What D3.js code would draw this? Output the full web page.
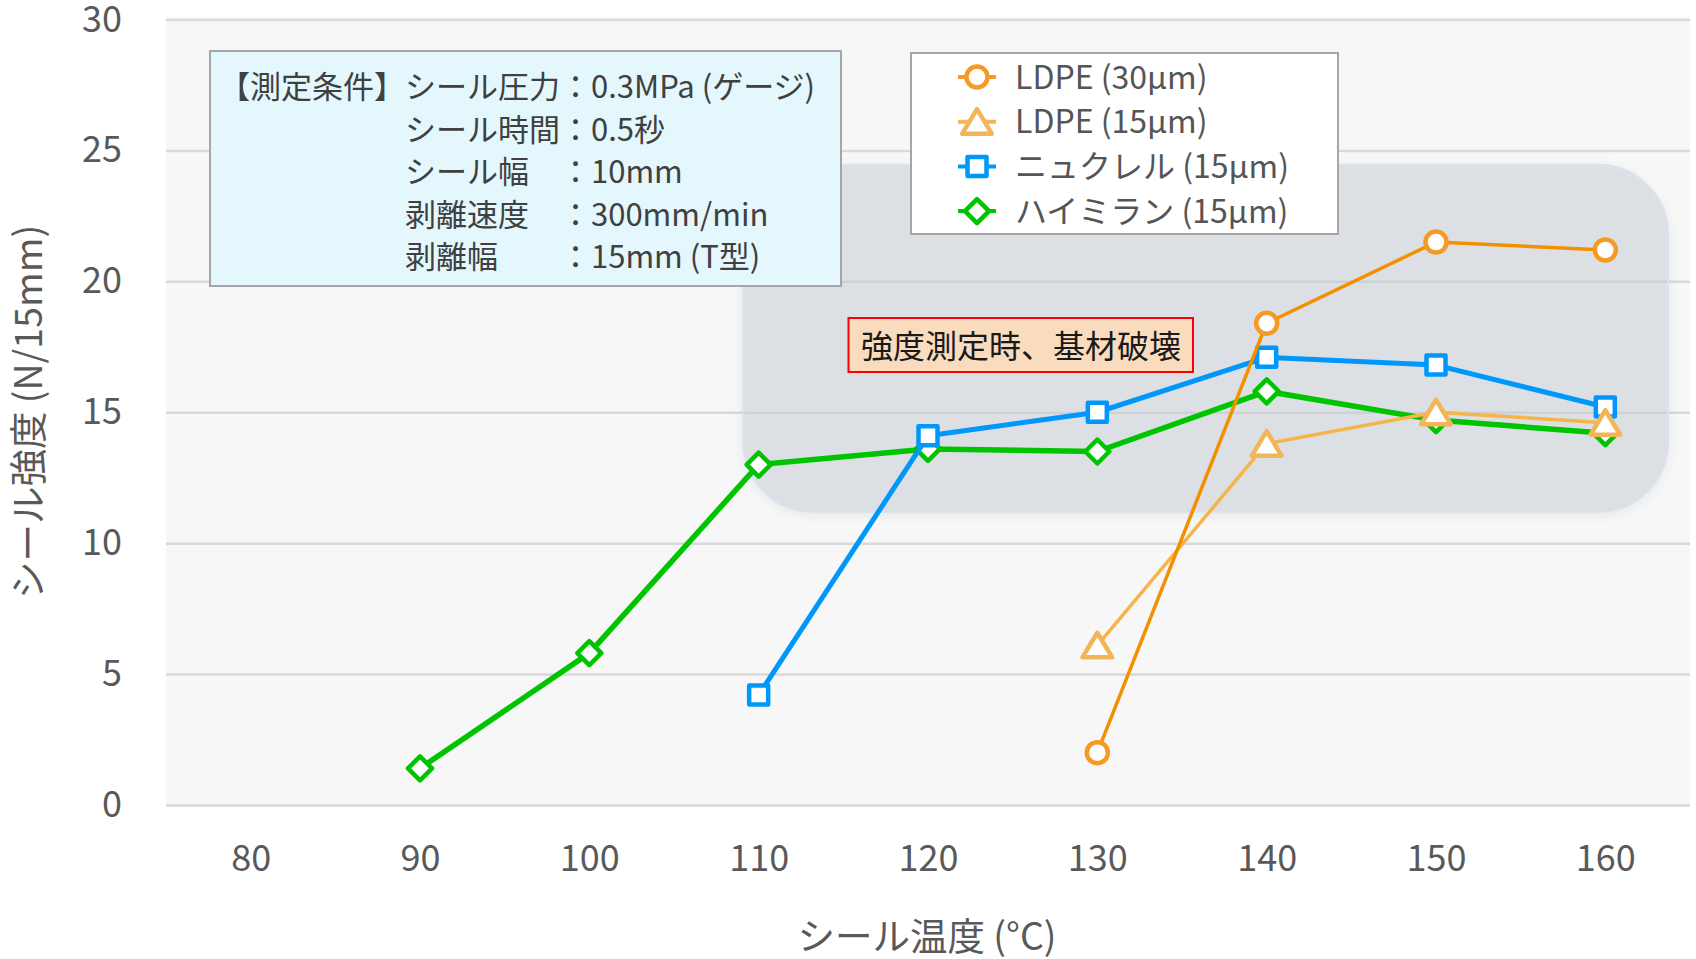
<!DOCTYPE html>
<html>
<head>
<meta charset="utf-8">
<script src="https://cdn.jsdelivr.net/npm/d3@7"></script>
<style>
  body { margin: 0; background: #fff; }
  svg { display: block; font-family: "Noto Sans CJK JP", "Noto Sans", sans-serif; }
</style>
</head>
<body>
<svg id="chart" width="1696" height="959"></svg>
<script>
var temps = [80, 90, 100, 110, 120, 130, 140, 150, 160]
var yTicks = [0, 5, 10, 15, 20, 25, 30]

var ldpe30Temps = [130, 140, 150, 160]
var ldpe30Values = [2.0, 18.4, 21.5, 21.2]
var ldpe15Temps = [130, 140, 150, 160]
var ldpe15Values = [6.1, 13.8, 15.0, 14.6]
var nucrelTemps = [110, 120, 130, 140, 150, 160]
var nucrelValues = [4.2, 14.1, 15.0, 17.1, 16.8, 15.2]
var himilanTemps = [90, 100, 110, 120, 130, 140, 150, 160]
var himilanValues = [1.4, 5.8, 13.0, 13.6, 13.5, 15.8, 14.7, 14.2]

var seriesNames = ['LDPE (30μm)', 'LDPE (15μm)', 'ニュクレル (15μm)', 'ハイミラン (15μm)']

var conditionTitle = '【測定条件】'
var conditionLabels = ['シール圧力', 'シール時間', 'シール幅　', '剥離速度　', '剥離幅　　']
var conditionValues = ['0.3MPa (ゲージ)', '0.5秒', '10mm', '300mm/min', '15mm (T型)']
var noteText = '強度測定時、基材破壊'

// region where the substrate broke (temp / strength units)
var brokenTemps = [109.1, 163.7]
var brokenValues = [11.2, 24.45]

var xTitle = 'シール温度 (°C)'
var yTitle = 'シール強度 (N/15mm)'

;(function() {
  var svg = d3.select('#chart')
  var left = 166, right = 1690, top = 17, bottom = 805

  var x = d3.scaleLinear().domain([75, 165]).range([left, right])
  var y = d3.scaleLinear().domain([0, 30]).range([bottom, 19.5])

  var defs = svg.append('defs')
  var f = defs.append('filter').attr('id', 'soft')
    .attr('x', '-10%').attr('y', '-10%').attr('width', '120%').attr('height', '130%')
  f.append('feDropShadow').attr('dx', 0).attr('dy', 3).attr('stdDeviation', 4)
    .attr('flood-color', '#9aa6b6').attr('flood-opacity', 0.3)

  svg.append('rect')
    .attr('x', left).attr('y', top)
    .attr('width', right - left).attr('height', bottom - top)
    .attr('fill', '#f7f7f7')

  // gridlines + y labels
  var yAxis = d3.axisLeft(y)
    .tickValues(yTicks)
    .tickSize(-(right - left))
    .tickPadding(44)
  var gy = svg.append('g')
    .attr('transform', 'translate(' + left + ',0)')
    .call(yAxis)
    .attr('font-family', null).attr('font-size', 36)
  gy.select('.domain').remove()
  gy.selectAll('.tick line').attr('stroke', '#d9d9d9').attr('stroke-width', 2.5)
  gy.selectAll('.tick text').attr('fill', '#595959')

  var xAxis = d3.axisBottom(x)
    .tickValues(temps)
    .tickSize(0)
    .tickPadding(40)
  var gx = svg.append('g')
    .attr('transform', 'translate(0,' + bottom + ')')
    .call(xAxis)
    .attr('font-family', null).attr('font-size', 36)
  gx.select('.domain').remove()
  gx.selectAll('.tick text').attr('fill', '#595959')

  // shaded region
  svg.append('rect')
    .attr('x', x(brokenTemps[0])).attr('y', y(brokenValues[1]))
    .attr('width', x(brokenTemps[1]) - x(brokenTemps[0]))
    .attr('height', y(brokenValues[0]) - y(brokenValues[1]))
    .attr('rx', 70).attr('ry', 70)
    .attr('fill', 'rgb(200,206,214)').attr('fill-opacity', 0.43)
    .attr('stroke', '#dae1ec').attr('stroke-width', 2)
    .attr('filter', 'url(#soft)')

  // conditions box
  svg.append('rect')
    .attr('x', 210).attr('y', 51).attr('width', 631).attr('height', 235)
    .attr('fill', '#e3f7fd').attr('stroke', '#a6a6a6').attr('stroke-width', 2)
  var cond = svg.append('g').attr('font-size', 31).attr('fill', '#404040')
  cond.append('text')
    .attr('x', 219).attr('y', 87).attr('dy', '0.36em')
    .text(conditionTitle)
  conditionLabels.forEach(function(label, i) {
    cond.append('text')
      .attr('x', 405).attr('y', 87 + i * 42.5).attr('dy', '0.36em')
      .text(label + '：' + conditionValues[i])
  })

  // note box
  svg.append('rect')
    .attr('x', 848.5).attr('y', 318).attr('width', 344.5).attr('height', 54)
    .attr('fill', '#f9dcbe').attr('stroke', '#ff0000').attr('stroke-width', 2)
  svg.append('text')
    .attr('x', 861).attr('y', 346).attr('dy', '0.36em')
    .attr('font-size', 32).attr('fill', '#1a1a1a')
    .text(noteText)

  function marker(g, type, cx, cy, color) {
    var m
    if (type == 'circle') {
      m = g.append('circle').attr('cx', cx).attr('cy', cy).attr('r', 10.5)
    } else if (type == 'triangle') {
      m = g.append('path').attr('d', 'M' + cx + ',' + (cy - 12.5) + 'L' + (cx + 14.8) + ',' + (cy + 12) +
        'L' + (cx - 14.8) + ',' + (cy + 12) + 'Z')
    } else if (type == 'square') {
      m = g.append('rect').attr('x', cx - 9.5).attr('y', cy - 9.5).attr('width', 19).attr('height', 19)
    } else {
      m = g.append('path').attr('d', 'M' + cx + ',' + (cy - 12) + 'L' + (cx + 12) + ',' + cy +
        'L' + cx + ',' + (cy + 12) + 'L' + (cx - 12) + ',' + cy + 'Z')
    }
    m.attr('fill', '#fff').attr('stroke', color).attr('stroke-width', 4.5)
      .attr('stroke-linejoin', 'round')
  }

  var series = [
    {temps: himilanTemps, values: himilanValues, color: '#00c400', lineColor: '#00c400', width: 5.5, type: 'diamond'},
    {temps: nucrelTemps, values: nucrelValues, color: '#0097fb', lineColor: '#0097fb', width: 5, type: 'square'},
    {temps: ldpe15Temps, values: ldpe15Values, color: '#f2b659', lineColor: '#f5b54a', width: 3.5, type: 'triangle'},
    {temps: ldpe30Temps, values: ldpe30Values, color: '#f59b25', lineColor: '#f39000', width: 3.5, type: 'circle'}
  ]

  var line = d3.line()
    .x(function(d) { return x(d[0]) })
    .y(function(d) { return y(d[1]) })

  series.forEach(function(s) {
    var pts = s.temps.map(function(t, i) { return [t, s.values[i]] })
    var g = svg.append('g')
    g.append('path')
      .attr('d', line(pts))
      .attr('fill', 'none').attr('stroke', s.lineColor)
      .attr('stroke-width', s.width).attr('stroke-linejoin', 'round')
    pts.forEach(function(p) {
      marker(g, s.type, x(p[0]), y(p[1]), s.color)
    })
  })

  // legend
  svg.append('rect')
    .attr('x', 911).attr('y', 53).attr('width', 427).attr('height', 181)
    .attr('fill', '#fff').attr('stroke', '#a6a6a6').attr('stroke-width', 2)
  var legendOrder = [series[3], series[2], series[1], series[0]]
  legendOrder.forEach(function(s, i) {
    var ly = 77 + i * 44.7
    var g = svg.append('g')
    g.append('line')
      .attr('x1', 958).attr('x2', 996).attr('y1', ly).attr('y2', ly)
      .attr('stroke', s.color).attr('stroke-width', 4)
    marker(g, s.type, 977, ly, s.color)
    g.append('text')
      .attr('x', 1015).attr('y', ly).attr('dy', '0.36em')
      .attr('font-size', 32).attr('fill', '#555')
      .text(seriesNames[i])
  })

  // axis titles
  svg.append('text')
    .attr('transform', 'translate(29,412) rotate(-90)')
    .attr('text-anchor', 'middle').attr('dy', '0.35em')
    .attr('font-size', 37.5).attr('fill', '#595959')
    .text(yTitle)
  svg.append('text')
    .attr('x', 927).attr('y', 937).attr('dy', '0.35em')
    .attr('text-anchor', 'middle')
    .attr('font-size', 37.5).attr('fill', '#595959')
    .text(xTitle)
})()
</script>
</body>
</html>
